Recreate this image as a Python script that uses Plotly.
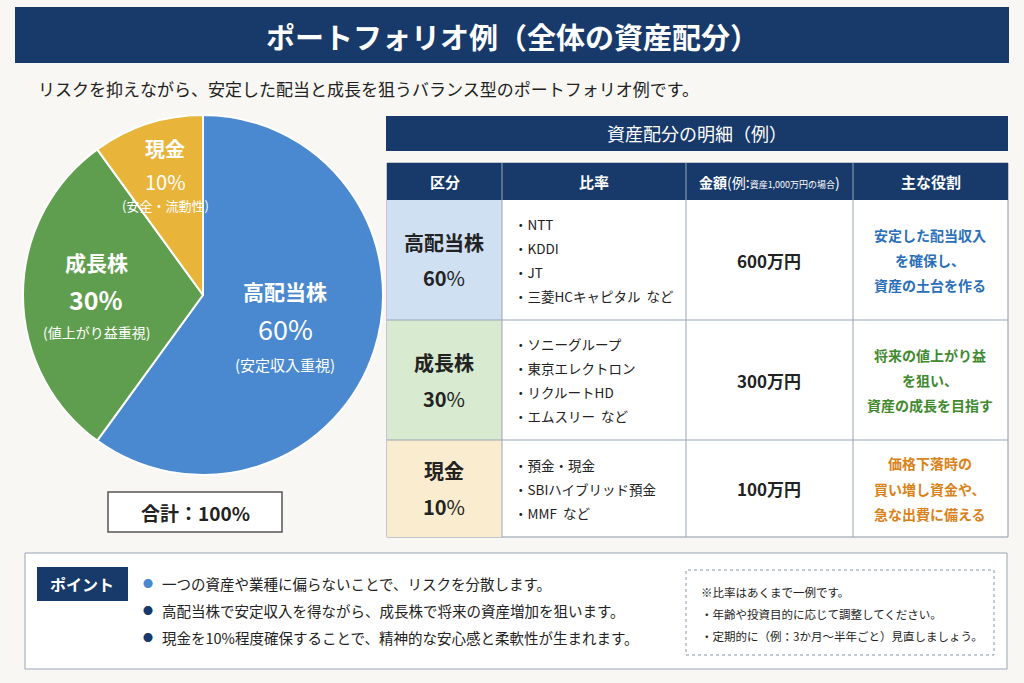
import plotly.graph_objects as go

W, H = 1024, 683
F = "Noto Sans CJK JP"
NAVY = "#173a6a"

categories = ["高配当株", "成長株", "現金"]
shares = [60, 30, 10]
pie_notes = ["(安定収入重視)", "(値上がり益重視)", "(安全・流動性)"]
colors = ["#4a89cf", "#5f9e4e", "#e8b43a"]
light = ["#cfe0f2", "#d8eacf", "#faedcf"]
role_colors = ["#2a6fb8", "#3f8a2e", "#d9821a"]
holdings = [["NTT", "KDDI", "JT", "三菱HCキャピタル  など"],
            ["ソニーグループ", "東京エレクトロン", "リクルートHD", "エムスリー  など"],
            ["預金・現金", "SBIハイブリッド預金", "MMF  など"]]
amounts = ["600万円", "300万円", "100万円"]
roles = [["安定した配当収入", "を確保し、", "資産の土台を作る"],
         ["将来の値上がり益", "を狙い、", "資産の成長を目指す"],
         ["価格下落時の", "買い増し資金や、", "急な出費に備える"]]
headers = ["区分", "比率", "金額", "主な役割"]
points = ["一つの資産や業種に偏らないことで、リスクを分散します。",
          "高配当株で安定収入を得ながら、成長株で将来の資産増加を狙います。",
          "現金を10%程度確保することで、精神的な安心感と柔軟性が生まれます。"]
notes = ["※比率はあくまで一例です。", "・年齢や投資目的に応じて調整してください。",
         "・定期的に（例：3か月〜半年ごと）見直しましょう。"]

def X(x): return x / W
def Y(y): return 1 - y / H

fig = go.Figure()
fig.add_trace(go.Pie(labels=categories, values=shares, sort=False, direction="clockwise",
                     rotation=0, marker=dict(colors=colors, line=dict(color="white", width=2)),
                     textinfo="none", hoverinfo="skip", showlegend=False,
                     domain=dict(x=[X(23), X(383)], y=[Y(478), Y(112)])))

shapes, ann = [], []
def rect(x0, y0, x1, y1, fill, line=None, lw=1, dash=None):
    shapes.append(dict(type="rect", xref="paper", yref="paper", x0=X(x0), x1=X(x1), y0=Y(y1), y1=Y(y0),
                       fillcolor=fill, line=dict(color=line or fill, width=lw if line else 0, dash=dash), layer="below"))
def txt(x, y, s, size, color="#222", bold=False, xa="center"):
    ann.append(dict(x=X(x), y=Y(y), xref="paper", yref="paper", text=f"<b>{s}</b>" if bold else s,
                    showarrow=False, xanchor=xa, yanchor="middle", font=dict(family=F, size=size, color=color)))

rect(0, 0, W, H, "#f8f7f3")
rect(15, 7, 1009, 63, NAVY)
txt(512, 36, "ポートフォリオ例（全体の資産配分）", 29, "white", True)
txt(36, 88, "リスクを抑えながら、安定した配当と成長を狙うバランス型のポートフォリオ例です。", 17, "#222", False, "left")

# pie labels
txt(285, 291, "<b>高配当株</b>", 21, "white"); txt(285, 329, "60%", 27, "white"); txt(285, 364, pie_notes[0], 15, "white")
txt(96, 262, "成長株", 21, "white", True); txt(96, 299, "30%", 25, "white", True); txt(96, 332, pie_notes[1], 14, "white")
txt(165, 148, "現金", 20, "white", True); txt(165, 181, "10%", 20, "white"); txt(165, 205, pie_notes[2], 13, "white")
rect(108, 492, 282, 532, "white", "#555", 1.5)
txt(195, 512, "合計：100%", 19, "#222", True)

# table
rect(386, 116, 1008, 151, NAVY)
txt(697, 133, "資産配分の明細（例）", 18, "white")
cols = [387, 502, 686, 853, 1008]
rows = [200, 320, 440, 537]
rect(387, 163, 1008, 537, "white", "#8a96a8", 1)
rect(387, 163, 1008, 200, NAVY)
for i, h in enumerate(headers):
    cx = (cols[i] + cols[i + 1]) / 2
    if i == 2:
        txt(cx, 182, "<b>金額</b>(例:<span style='font-size:9px'>資産1,000万円の場合</span>)", 14, "white", False)
    else:
        txt(cx, 182, h, 15, "white", True)
for r in range(3):
    y0, y1 = rows[r], rows[r + 1]
    rect(387, y0, 502, y1, light[r])
    cy = (y0 + y1) / 2
    txt(444, cy - 18, categories[r], 20, "#222", True)
    txt(444, cy + 18, f"<b>{shares[r]}</b>%", 20, "#222")
    n = len(holdings[r])
    for k, s in enumerate(holdings[r]):
        txt(512, cy + (k - (n - 1) / 2) * 24, "・" + s, 13.5, "#222", False, "left")
    txt(769, cy, amounts[r], 17, "#222", True)
    for k, s in enumerate(roles[r]):
        txt(930, cy + (k - 1) * 25, s, 14, role_colors[r], True)
    if r < 2:
        shapes.append(dict(type="line", xref="paper", yref="paper", x0=X(387), x1=X(1008), y0=Y(y1), y1=Y(y1),
                           line=dict(color="#9aa5b5", width=1)))
for c in cols[1:-1]:
    shapes.append(dict(type="line", xref="paper", yref="paper", x0=X(c), x1=X(c), y0=Y(537), y1=Y(163),
                       line=dict(color="#9aa5b5", width=1)))

# points box
rect(25, 553, 1007, 669, "white", "#9aa5b5", 1)
rect(37, 567, 128, 601, NAVY)
txt(82, 584, "ポイント", 16, "white", True)
for k, s in enumerate(points):
    y = 583 + k * 27
    txt(148, y, "●", 10, "#4a89cf" if k == 0 else NAVY)
    txt(160, y, s, 14.5, "#222", False, "left")
rect(686, 570, 994, 655, "white", "#8a96a8", 1, "dot")
for k, s in enumerate(notes):
    txt(699, 592 + k * 22, s, 11.5, "#222", False, "left")

fig.update_layout(width=W, height=H, margin=dict(l=0, r=0, t=0, b=0), paper_bgcolor="#f8f7f3",
                  plot_bgcolor="#f8f7f3", shapes=shapes, annotations=ann)
fig.write_html("out.html", config={"displayModeBar": False},
               post_script="document.body.style.margin='0';document.body.style.overflow='hidden';")
